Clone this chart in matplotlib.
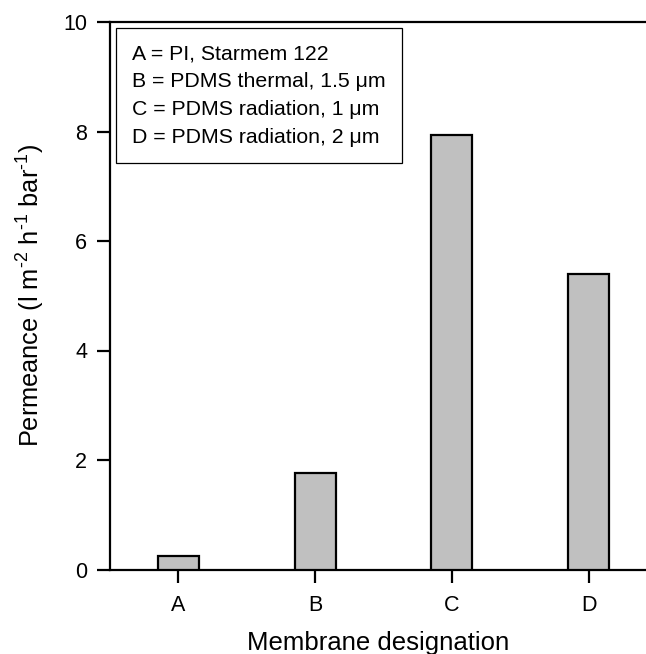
import matplotlib
matplotlib.use('Agg')
import matplotlib.pyplot as plt
from matplotlib.patches import Patch

plt.rcParams['font.family'] = ['Liberation Sans', 'DejaVu Sans']
plt.rcParams['mathtext.fontset'] = 'custom'
plt.rcParams['mathtext.rm'] = 'Liberation Sans'
plt.rcParams['mathtext.default'] = 'regular'

membranes = ['A', 'B', 'C', 'D']
permeance = [0.25, 1.77, 7.93, 5.40]
legend_lines = [
    'A = PI, Starmem 122',
    'B = PDMS thermal, 1.5 \u03bcm',
    'C = PDMS radiation, 1 \u03bcm',
    'D = PDMS radiation, 2 \u03bcm',
]

W, H = 646, 654
fig = plt.figure(figsize=(W / 100, H / 100), dpi=100)
# axes run off the right edge of the picture, as in the original crop
ax = fig.add_axes([110 / W, (H - 569.5) / H, (W - 110) / W, (569.5 - 22) / H])

x = list(range(len(membranes)))
ax.bar(x, permeance, width=0.3, color='#c0c0c0', edgecolor='black', linewidth=1.6, zorder=3)

ax.set_xlim(-0.5, 3.42)
ax.set_ylim(0, 10)
ax.set_xticks(x)
ax.set_xticklabels(membranes)
ax.set_yticks([0, 2, 4, 6, 8, 10])

for s in ['left', 'bottom', 'top']:
    ax.spines[s].set_linewidth(1.6)
ax.spines['right'].set_visible(False)
ax.tick_params(direction='out', length=9.5, width=1.6, labelsize=15.5, pad=7)
ax.tick_params(axis='x', pad=9)

ax.set_xlabel('Membrane designation', fontsize=18.5, labelpad=11)
ax.set_ylabel('Permeance (l m$^{\u20102}$ h$^{\u20101}$ bar$^{\u20101}$)',
              fontsize=18.3, labelpad=11.5)

handles = [Patch(visible=False) for _ in legend_lines]
leg = ax.legend(handles, legend_lines, loc='upper left', fontsize=15.3,
                handlelength=0, handletextpad=0, fancybox=False, framealpha=1,
                edgecolor='black', borderpad=0.75, labelspacing=0.42,
                borderaxespad=0.3)
leg.get_frame().set_linewidth(0.9)

fig.savefig('out.png', dpi=100)
